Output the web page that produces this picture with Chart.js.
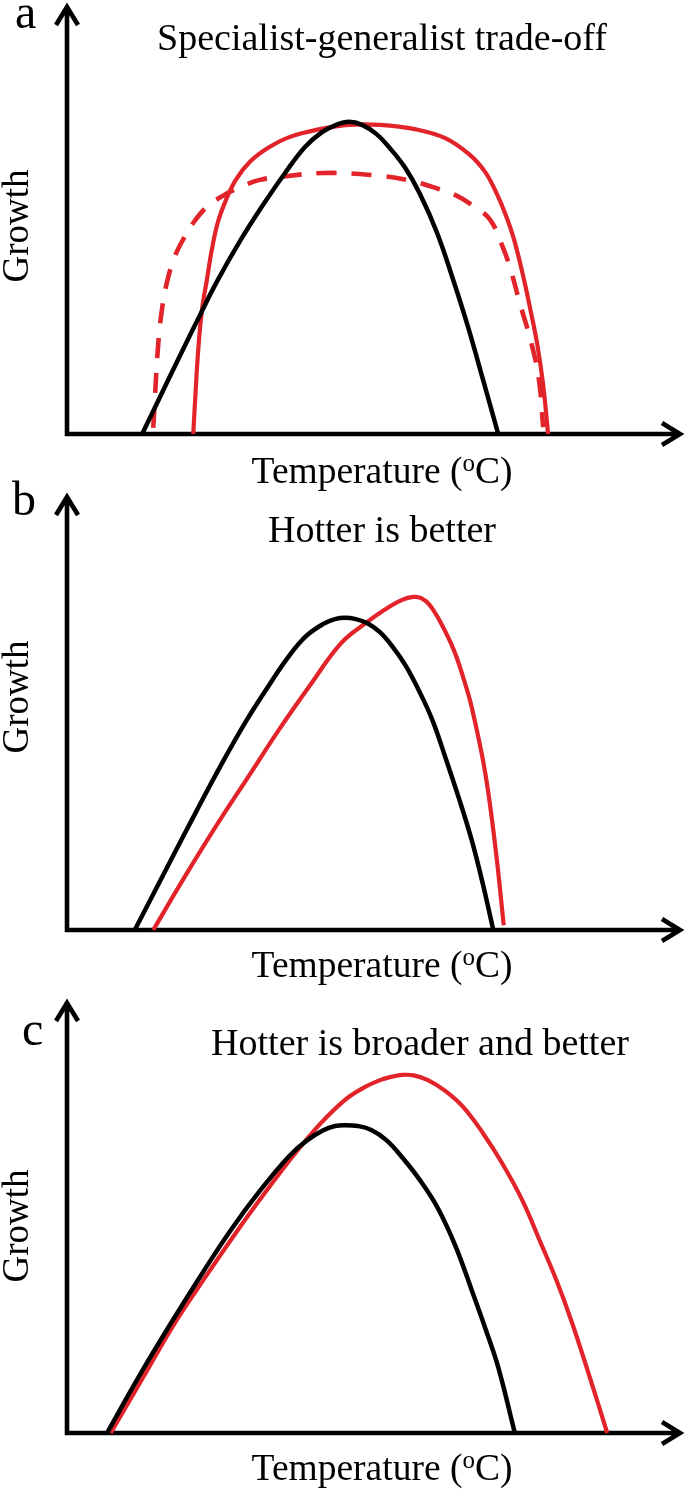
<!DOCTYPE html>
<html>
<head>
<meta charset="utf-8">
<script src="https://cdn.jsdelivr.net/npm/chart.js@4.4.1/dist/chart.umd.min.js"></script>
<style>
  html, body { margin: 0; padding: 0; background: #fff; }
  #wrap { position: relative; width: 685px; height: 1491px; }
  #wrap canvas { position: absolute; left: 0; top: 0; }
</style>
</head>
<body>
<div id="wrap">
  <canvas id="panelA" width="685" height="1491"></canvas>
  <canvas id="panelB" width="685" height="1491"></canvas>
  <canvas id="panelC" width="685" height="1491"></canvas>
</div>
<script>
// temperature and growth are in arbitrary units (0-100 along each axis)

// a: specialist-generalist trade-off
const aBlackTemp = [12.2, 15.1, 18.3, 21.6, 24.4, 28.1, 31.7, 35.4, 38.6, 41.4, 43.7, 45.8, 47.9, 50.2, 52.4, 54.9, 57.3, 60.1, 62.7, 65.1, 67.5, 70.0];
const aBlackGrowth = [0, 8.6, 18.1, 27.7, 35.6, 44.9, 53.0, 60.7, 66.7, 70.2, 71.9, 72.6, 71.9, 69.8, 66.5, 61.9, 55.8, 46.7, 35.8, 24.9, 12.8, 0];
const aRedTemp = [20.5, 20.8, 21.3, 21.9, 22.7, 23.5, 24.5, 25.8, 27.4, 29.7, 32.6, 36.2, 41.1, 45.8, 50.8, 56.5, 61.4, 65.4, 67.9, 69.5, 71.1, 72.6, 74.2, 75.3, 76.3, 77.3, 78.1];
const aRedGrowth = [0, 7.9, 19.5, 28.8, 35.8, 42.8, 49.3, 54.4, 59.1, 63.3, 66.5, 69.1, 70.9, 71.9, 71.9, 70.9, 68.8, 64.9, 60.9, 56.7, 51.4, 45.1, 35.8, 28.4, 21.2, 11.4, 0];
const aDashTemp = [14.0, 14.3, 14.8, 15.4, 16.2, 17.4, 18.8, 20.6, 22.7, 25.2, 28.1, 31.3, 34.6, 41.6, 49.7, 55.2, 59.4, 63.0, 66.2, 68.7, 70.6, 71.9, 73.5, 75.3, 76.6, 77.3];
const aDashGrowth = [1.4, 9.1, 20.7, 28.8, 35.1, 40.9, 45.1, 49.3, 52.8, 55.3, 57.4, 59.1, 59.8, 60.7, 60.2, 59.1, 57.4, 55.6, 52.8, 49.8, 44.0, 38.8, 30.5, 21.6, 12.8, 1.6];

// b: hotter is better
const bBlackTemp = [11.0, 16.2, 21.1, 25.0, 28.9, 32.5, 35.9, 38.8, 41.6, 43.5, 45.1, 46.9, 48.7, 50.8, 52.9, 55.0, 57.1, 59.3, 61.4, 63.6, 65.7, 67.5, 69.2];
const bBlackGrowth = [0, 14.2, 27.5, 37.8, 47.5, 55.5, 62.6, 67.4, 70.2, 71.3, 71.6, 71.3, 70.4, 68.3, 64.9, 60.6, 55.0, 48.2, 39.7, 30.3, 20.6, 10.6, 0];
const bRedTemp = [14.0, 19.2, 24.5, 29.5, 34.4, 39.4, 44.5, 48.7, 51.5, 54.4, 56.2, 57.5, 58.9, 60.7, 62.8, 64.3, 65.7, 67.9, 69.6, 70.9];
const bRedGrowth = [0, 12.4, 24.5, 35.3, 45.9, 56.0, 65.8, 70.6, 73.4, 75.7, 76.4, 76.1, 74.5, 70.4, 64.2, 58.0, 51.1, 36.0, 18.3, 1.1];

// c: hotter is broader and better
const cBlackTemp = [6.5, 11.9, 17.5, 22.1, 26.6, 31.3, 35.9, 38.8, 41.6, 43.5, 45.1, 47.2, 49.4, 51.8, 54.4, 57.3, 60.1, 63.0, 65.7, 68.0, 70.0, 72.7];
const cBlackGrowth = [0, 13.6, 26.8, 37.2, 46.9, 55.9, 63.7, 67.4, 69.9, 70.9, 71.1, 70.9, 70.0, 67.7, 63.7, 58.4, 52.2, 43.4, 33.0, 23.8, 15.2, 0];
const cRedTemp = [7.1, 12.3, 17.5, 22.6, 27.4, 32.1, 36.7, 41.1, 45.1, 48.1, 50.8, 52.8, 54.4, 56.3, 58.6, 61.4, 64.3, 67.5, 70.6, 73.9, 76.9, 79.5, 82.0, 84.9, 87.7];
const cRedGrowth = [0, 12.7, 25.4, 36.3, 46.2, 55.4, 64.0, 71.4, 76.9, 79.7, 81.5, 82.3, 82.7, 82.6, 81.5, 79.0, 75.3, 69.3, 62.4, 53.8, 43.9, 35.1, 25.4, 12.7, 0];

const titles = ["Specialist-generalist trade-off", "Hotter is better", "Hotter is broader and better"];
const letters = ["a", "b", "c"];
const xLabel = "Temperature (";
const yLabel = "Growth";

const BLACK = "#000000";
const RED = "#e2232a";
const SERIF = "'Liberation Serif', 'Times New Roman', serif";

function points(xs, ys) {
  return xs.map((x, i) => ({ x, y: ys[i] }));
}

function curve(xs, ys, color, dashed) {
  return {
    data: points(xs, ys),
    borderColor: color,
    borderWidth: color === BLACK ? 4.5 : dashed ? 4.6 : 4.2,
    borderDash: dashed ? [20, 15] : [],
    tension: 0.4,
    pointRadius: 0,
    fill: false,
    clip: false,
  };
}

const sketchPlugin = {
  id: "sketch",
  beforeDatasetsDraw(chart, args, opts) {
    const { ctx } = chart;
    const { left, right, top, bottom } = chart.chartArea;
    ctx.save();
    ctx.strokeStyle = BLACK;
    ctx.lineWidth = 4.6;
    ctx.lineJoin = "miter";
    ctx.lineCap = "butt";
    ctx.beginPath();
    ctx.moveTo(left, bottom + 2);
    ctx.lineTo(left, top + 3);
    ctx.moveTo(left - 11, top + 21);
    ctx.lineTo(left, top + 3);
    ctx.lineTo(left + 11, top + 21);
    ctx.moveTo(left - 2, bottom);
    ctx.lineTo(right - 3, bottom);
    ctx.moveTo(right - 21, bottom - 11);
    ctx.lineTo(right - 3, bottom);
    ctx.lineTo(right - 21, bottom + 11);
    ctx.stroke();
    ctx.restore();
  },
  afterDraw(chart, args, opts) {
    const { ctx } = chart;
    const { bottom } = chart.chartArea;
    ctx.save();
    ctx.fillStyle = BLACK;
    ctx.textBaseline = "alphabetic";

    ctx.font = `48px ${SERIF}`;
    ctx.textAlign = "left";
    ctx.fillText(opts.letter, opts.letterX, opts.letterY);

    ctx.font = `38px ${SERIF}`;
    ctx.textAlign = "center";
    ctx.fillText(opts.title, opts.titleX, opts.titleY);

    // x label with superscript o
    const big = `37.5px ${SERIF}`;
    const small = `25px ${SERIF}`;
    ctx.font = big;
    const w1 = ctx.measureText(xLabel).width;
    const w3 = ctx.measureText("C)").width;
    ctx.font = small;
    const w2 = ctx.measureText("o").width;
    let x = 382 - (w1 + w2 + w3) / 2;
    const y = bottom + opts.xLabelGap;
    ctx.textAlign = "left";
    ctx.font = big;
    ctx.fillText(xLabel, x, y);
    x += w1;
    ctx.font = small;
    ctx.fillText("o", x, y - 12);
    x += w2;
    ctx.font = big;
    ctx.fillText("C)", x, y);

    ctx.translate(28, opts.yLabelY);
    ctx.rotate(-Math.PI / 2);
    ctx.font = `37px ${SERIF}`;
    ctx.textAlign = "center";
    ctx.fillText(yLabel, 0, 0);
    ctx.restore();
  },
};

function makePanel(canvasId, datasets, area, text) {
  const canvas = document.getElementById(canvasId);
  return new Chart(canvas, {
    type: "line",
    data: { datasets },
    plugins: [sketchPlugin],
    options: {
      responsive: false,
      animation: false,
      events: [],
      layout: {
        padding: { left: 67, right: 2, top: area.top, bottom: 1491 - area.bottom },
      },
      scales: {
        x: { type: "linear", min: 0, max: 100, display: false },
        y: { type: "linear", min: 0, max: 100, display: false },
      },
      plugins: {
        legend: { display: false },
        tooltip: { enabled: false },
        sketch: text,
      },
    },
  });
}

makePanel(
  "panelA",
  [
    curve(aBlackTemp, aBlackGrowth, BLACK, false),
    curve(aDashTemp, aDashGrowth, RED, true),
    curve(aRedTemp, aRedGrowth, RED, false),
  ],
  { top: 4, bottom: 434 },
  { letter: letters[0], letterX: 15, letterY: 28, title: titles[0], titleX: 382, titleY: 50, xLabelGap: 49, yLabelY: 226 }
);

makePanel(
  "panelB",
  [
    curve(bBlackTemp, bBlackGrowth, BLACK, false),
    curve(bRedTemp, bRedGrowth, RED, false),
  ],
  { top: 494, bottom: 930 },
  { letter: letters[1], letterX: 12, letterY: 515, title: titles[1], titleX: 382, titleY: 542, xLabelGap: 47, yLabelY: 697 }
);

makePanel(
  "panelC",
  [
    curve(cBlackTemp, cBlackGrowth, BLACK, false),
    curve(cRedTemp, cRedGrowth, RED, false),
  ],
  { top: 1000, bottom: 1433 },
  { letter: letters[2], letterX: 22, letterY: 1045, title: titles[2], titleX: 420, titleY: 1055, xLabelGap: 47, yLabelY: 1226 }
);
</script>
</body>
</html>
